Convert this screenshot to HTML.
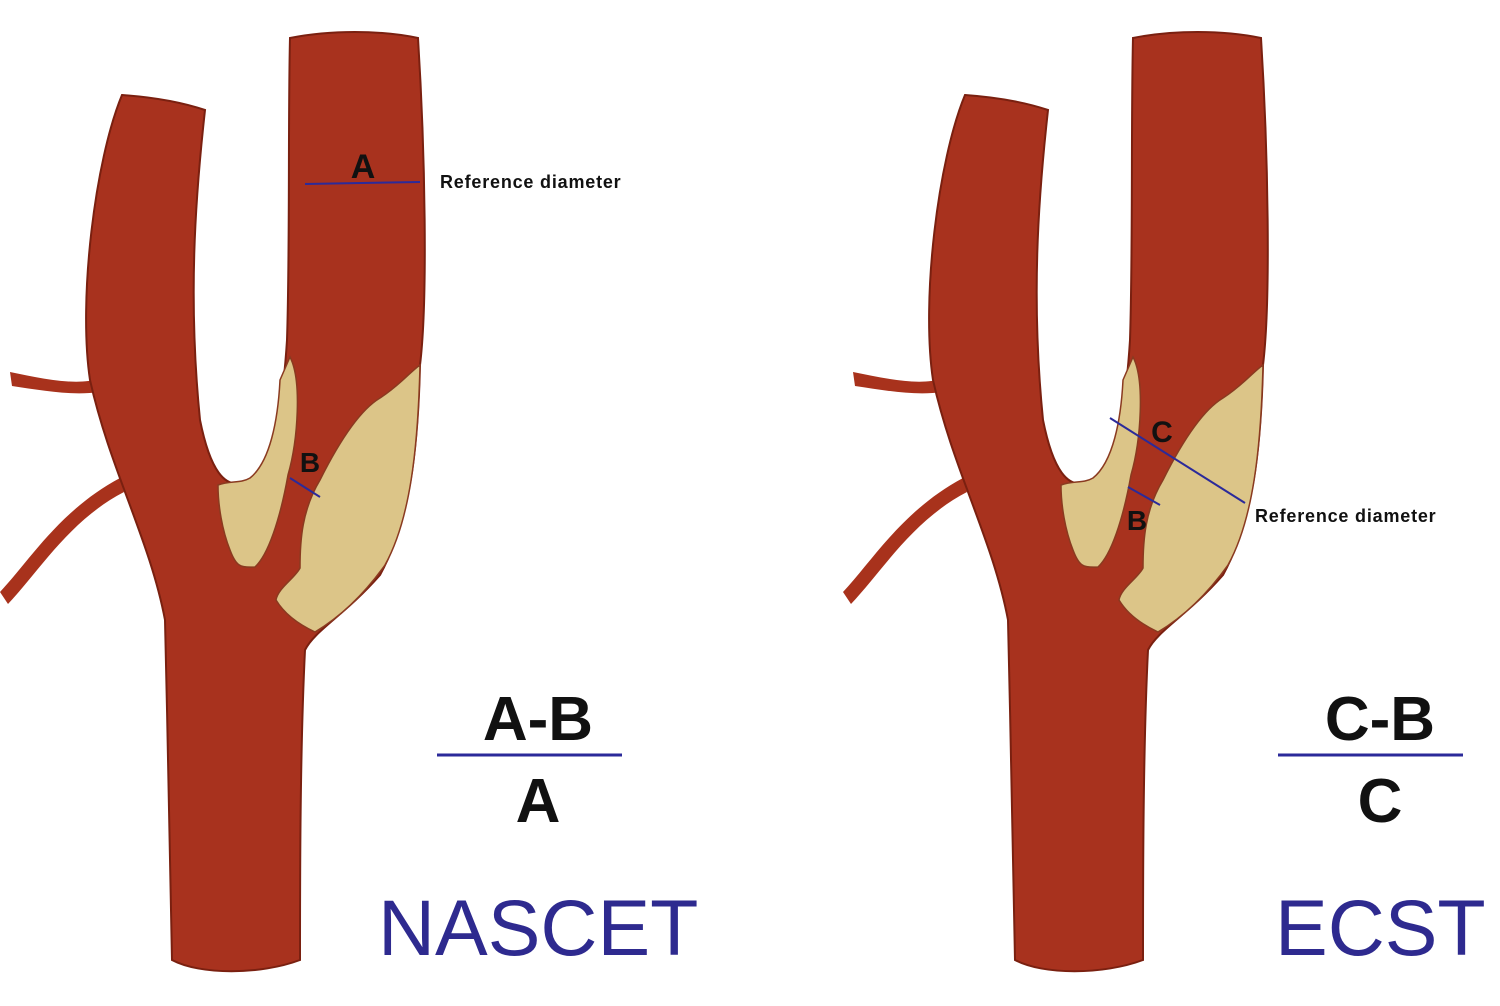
<!DOCTYPE html>
<html><head><style>
body{margin:0;background:#fff;width:1500px;height:1001px;overflow:hidden}
text{font-family:"Liberation Sans",sans-serif}
</style></head><body>
<svg width="1500" height="1001" viewBox="0 0 1500 1001">
<defs>
<g id="v">
<path d="M10,372 C40,378 70,385 95,380 L100,392 C70,396 40,390 12,386 Z" fill="#a8321c"/>
<path d="M0,592 C30,560 60,510 120,478 L124,492 C70,520 40,570 8,604 Z" fill="#a8321c"/>
<path d="M122,95 C165,98 190,105 205,110 C195,200 188,300 200,420 C210,470 225,490 245,482 C270,470 282,420 287,340 C290,250 288,120 290,38 C330,30 380,30 418,38 C425,150 428,300 420,365 C418,450 410,520 380,575 C345,615 315,630 305,650 C300,750 300,880 300,960 C260,975 200,975 172,960 C170,880 168,740 165,620 C150,540 110,470 90,380 C78,300 95,160 122,95 Z" fill="#a8321e" stroke="#7a2010" stroke-width="2"/>
<path d="M290,357 C302,380 298,440 288,475 C280,520 268,555 255,567 C240,568 236,566 230,550 C222,530 218,505 218,485 C230,480 240,484 250,478 C270,462 278,420 280,380 Z" fill="#dcc588" stroke="#8a3a20" stroke-width="1.5"/>
<path d="M420,365 C418,450 410,520 385,565 C360,600 335,620 315,632 C300,625 285,615 276,600 C278,588 295,578 300,568 C300,540 302,510 320,480 C340,440 360,410 380,398 C400,385 410,372 420,365 Z" fill="#dcc588" stroke="#8a3a20" stroke-width="1.5"/>
</g>
</defs>
<use href="#v"/>
<use href="#v" transform="translate(843,0)"/>
<line x1="305" y1="184" x2="420" y2="182" stroke="#2b2a9a" stroke-width="2"/>
<text x="363" y="178" font-size="34" font-weight="bold" text-anchor="middle" fill="#111">A</text>
<text x="440" y="188" font-size="18" font-weight="bold" letter-spacing="0.8" fill="#111">Reference diameter</text>
<line x1="290" y1="478" x2="320" y2="497" stroke="#2b2a9a" stroke-width="2"/>
<text x="310" y="472" font-size="28" font-weight="bold" text-anchor="middle" fill="#111">B</text>
<text x="538" y="740" font-size="62" font-weight="bold" text-anchor="middle" fill="#111">A-B</text>
<line x1="437" y1="755" x2="622" y2="755" stroke="#2b2a9a" stroke-width="3"/>
<text x="538" y="822" font-size="62" font-weight="bold" text-anchor="middle" fill="#111">A</text>
<text x="378" y="955" font-size="79" fill="#2e2a8f">NASCET</text>
<line x1="1110" y1="418" x2="1245" y2="503" stroke="#2b2a9a" stroke-width="2"/>
<text x="1162" y="442" font-size="30" font-weight="bold" text-anchor="middle" fill="#111">C</text>
<line x1="1128" y1="487" x2="1160" y2="505" stroke="#2b2a9a" stroke-width="2"/>
<text x="1137" y="530" font-size="28" font-weight="bold" text-anchor="middle" fill="#111">B</text>
<text x="1255" y="522" font-size="18" font-weight="bold" letter-spacing="0.8" fill="#111">Reference diameter</text>
<text x="1380" y="740" font-size="62" font-weight="bold" text-anchor="middle" fill="#111">C-B</text>
<line x1="1278" y1="755" x2="1463" y2="755" stroke="#2b2a9a" stroke-width="3"/>
<text x="1380" y="822" font-size="62" font-weight="bold" text-anchor="middle" fill="#111">C</text>
<text x="1275" y="955" font-size="79" fill="#2e2a8f">ECST</text>
</svg>
</body></html>
